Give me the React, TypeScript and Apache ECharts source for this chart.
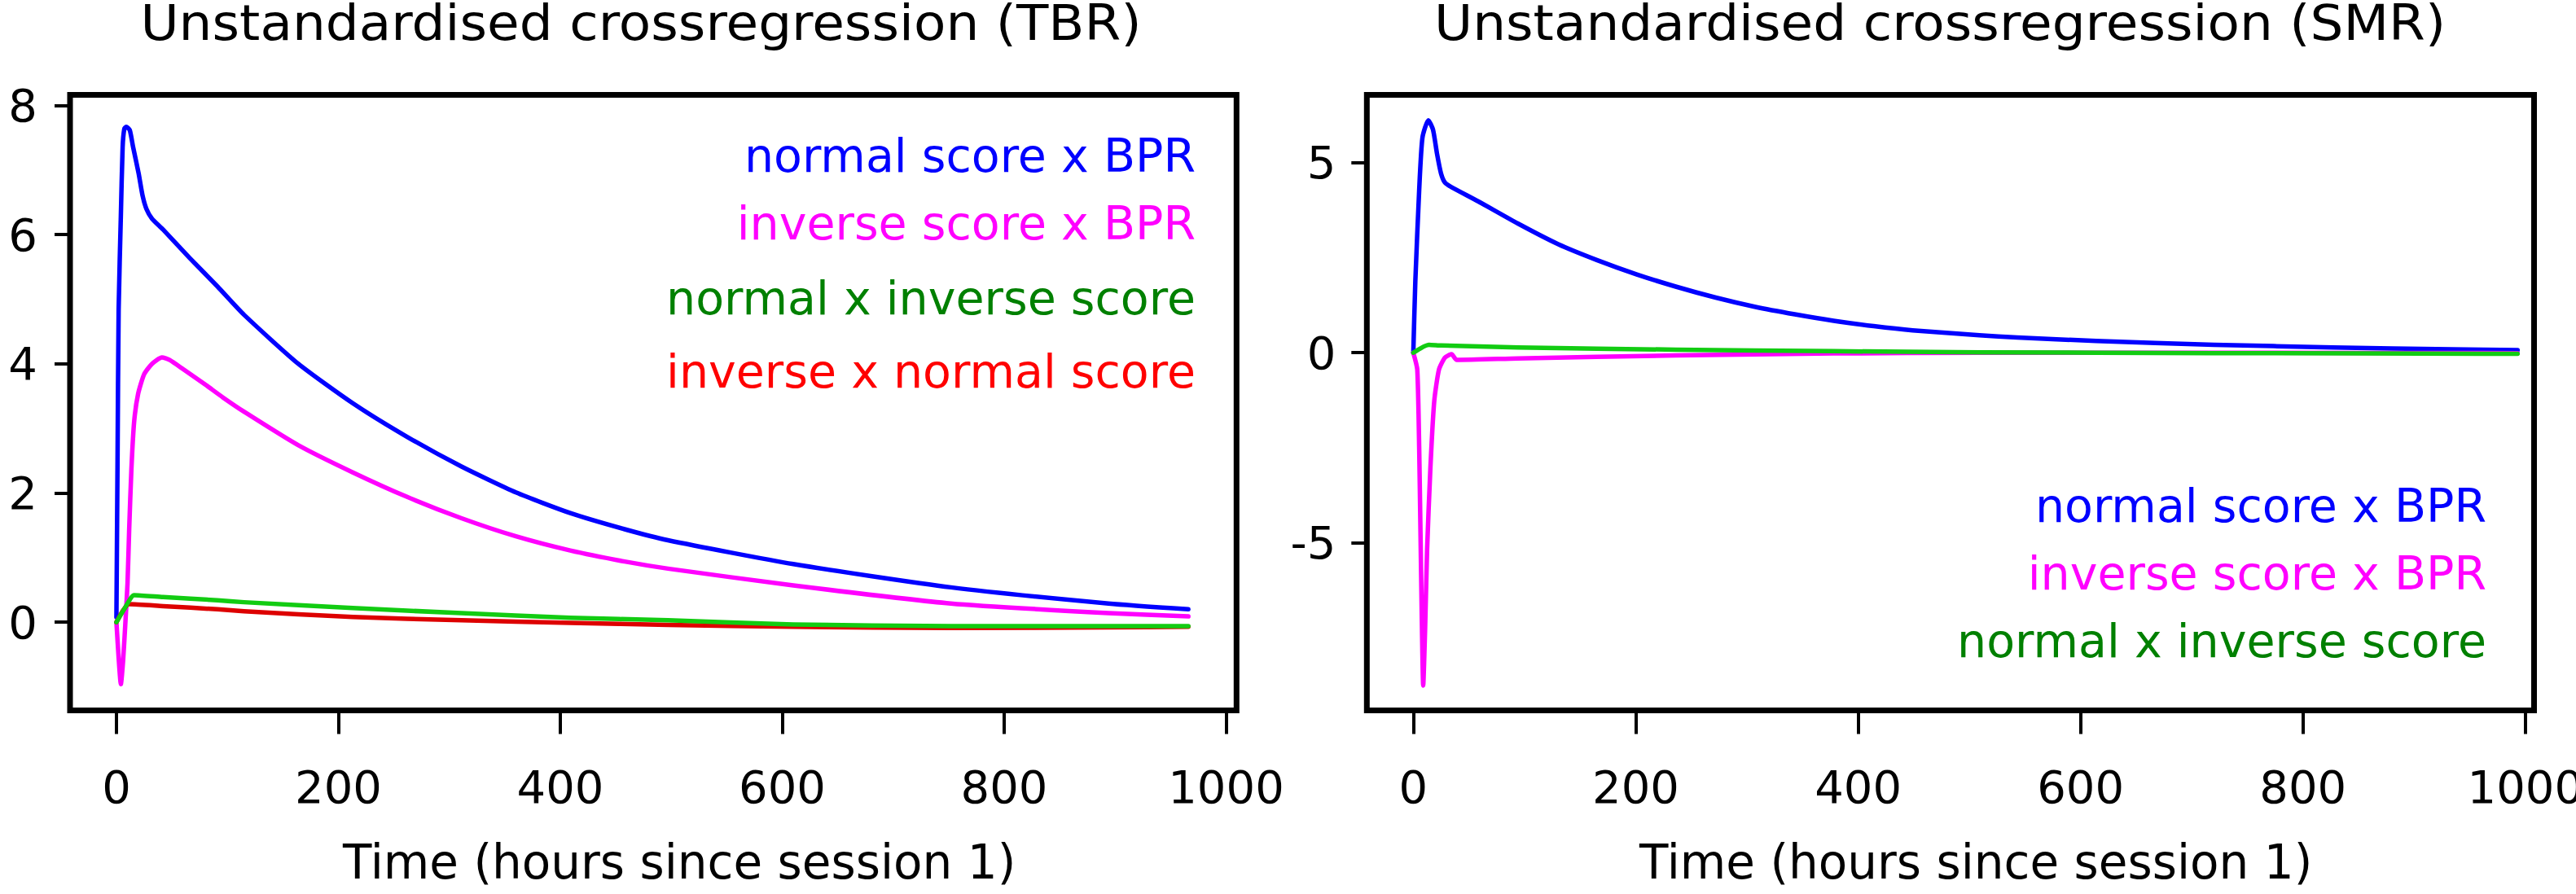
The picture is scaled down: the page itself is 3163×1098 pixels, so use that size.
import React, { useEffect, useRef } from "react";
import * as echarts from "echarts";

const FONT = "DejaVu Sans";

// Tick values
const X_TICKS = [0, 200, 400, 600, 800, 1000];
const TBR_Y_TICKS = [0, 2, 4, 6, 8];
const SMR_Y_TICKS = [-5, 0, 5];

// Titles / labels
const TBR_TITLE = "Unstandardised crossregression (TBR)";
const SMR_TITLE = "Unstandardised crossregression (SMR)";
const X_NAME = "Time (hours since session 1)";
const TBR_LEGEND = ["normal score x BPR", "inverse score x BPR", "normal x inverse score", "inverse x normal score"];
const SMR_LEGEND = ["normal score x BPR", "inverse score x BPR", "normal x inverse score"];

// TBR panel series: [hours, value]
const tbrNormalBpr: [number, number][] = [
  [0, 0.08], [1, 2.5], [2, 4.84], [4, 6.3], [5.6, 7.36], [7.1, 7.64], [8.8, 7.67], [12, 7.62],
  [15, 7.36], [20, 6.95], [23.5, 6.61], [27, 6.4], [32, 6.25], [42, 6.08], [66, 5.64], [91, 5.2],
  [115, 4.76], [164, 4.0], [213, 3.39], [262, 2.87], [311, 2.41], [360, 2.01],
  [409, 1.69], [458, 1.44], [497, 1.27], [610, 0.9], [752, 0.54], [894, 0.29], [966, 0.2],
];
const tbrInverseBpr: [number, number][] = [
  [0, 0], [2, -0.55], [4, -0.96], [6, -0.6], [8, -0.03], [10, 0.6], [11.5, 1.44], [13.5, 2.37],
  [16, 3.11], [19.6, 3.54], [25, 3.84], [32, 4.0], [41, 4.1], [48, 4.06], [60, 3.92], [80, 3.68],
  [96, 3.48], [115, 3.26], [164, 2.74], [213, 2.32], [262, 1.94], [311, 1.61], [360, 1.33], [409, 1.11],
  [458, 0.94], [497, 0.83], [610, 0.57], [752, 0.29], [894, 0.14], [966, 0.09],
];
const tbrNormalInverse: [number, number][] = [
  [0, 0], [7.6, 0.22], [16, 0.42], [42, 0.39], [91, 0.34], [115, 0.31], [213, 0.22], [311, 0.14],
  [409, 0.07], [497, 0.03], [610, -0.035], [752, -0.06], [894, -0.06], [966, -0.06],
];
const tbrInverseNormal: [number, number][] = [
  [0, 0], [11.5, 0.28], [42, 0.25], [91, 0.2], [115, 0.17], [213, 0.08], [311, 0.03], [409, -0.01],
  [497, -0.04], [610, -0.07], [752, -0.09], [894, -0.08], [966, -0.07],
];

// SMR panel series
const smrNormalBpr: [number, number][] = [
  [0, 0], [1.8, 1.87], [5.3, 4.3], [8.2, 5.66], [13.5, 6.12], [17.7, 5.87], [21.3, 5.24],
  [24.9, 4.72], [28.4, 4.48], [33.7, 4.37], [58.6, 3.98], [94, 3.4], [130, 2.86], [165, 2.44],
  [201, 2.06], [236, 1.74], [272, 1.45], [307, 1.21], [343, 1.01], [378, 0.84], [414, 0.7],
  [449, 0.59], [509, 0.46], [543, 0.4], [614, 0.31], [720, 0.21], [827, 0.14], [933, 0.09], [993, 0.07],
];
const smrInverseBpr: [number, number][] = [
  [0, 0], [3.55, -0.44], [5.3, -2.55], [6.4, -4.65], [7.5, -6.76], [8.9, -8.76], [10.6, -7.28],
  [12.4, -5.18], [15.3, -3.07], [18.8, -1.28], [23.1, -0.44], [28.4, -0.13], [34.4, -0.04],
  [39, -0.19], [94, -0.15], [236, -0.07], [378, -0.02], [509, 0], [720, 0], [993, -0.01],
];
const smrNormalInverse: [number, number][] = [
  [0, 0], [14, 0.21], [25, 0.19], [94, 0.14], [236, 0.08], [378, 0.04], [509, 0.01], [720, -0.01], [993, -0.03],
];

// Colours
const BLUE = "#0000ff";
const MAGENTA = "#ff00ff";
const GREEN_LINE = "#12cc12";
const GREEN_TEXT = "#008000";
const RED_LINE = "#dd0000";
const RED_TEXT = "#ff0000";

const TICK_FS = 56;
const LEGEND_FS = 57;
const TITLE_FS = 60;
const XNAME_FS = 58;
const CENTRAL = 0.346; // central baseline offset (em) for DejaVu Sans

function mid(baseline: number, fs: number) {
  return baseline - CENTRAL * fs;
}

function text(x: number, baseline: number, str: string, fs: number, color: string, align: string, lh?: number, sx?: number) {
  return {
    type: "text",
    x,
    y: mid(baseline, fs),
    scaleX: sx ?? 1,
    silent: true,
    z: 100,
    style: {
      text: str,
      fill: color,
      fontSize: fs,
      fontFamily: FONT,
      lineHeight: lh ?? fs,
      align,
      textAlign: align,
      verticalAlign: "middle",
      textVerticalAlign: "middle",
    },
  };
}

const fmt = (v: number) => String(v);

function xAxisOpt(gridIndex: number, min: number, max: number) {
  return {
    type: "value",
    gridIndex,
    min,
    max,
    position: "bottom",
    axisLine: { show: false, onZero: false },
    splitLine: { show: false },
    axisTick: { show: true, length: 29, lineStyle: { color: "#000", width: 4 }, customValues: X_TICKS },
    axisLabel: {
      show: true,
      customValues: X_TICKS,
      formatter: fmt,
      margin: 66,
      color: "#000",
      fontSize: TICK_FS,
      fontFamily: FONT,
      lineHeight: TICK_FS,
    },
  };
}

function yAxisOpt(gridIndex: number, min: number, max: number, ticks: number[], margin: number) {
  return {
    type: "value",
    gridIndex,
    min,
    max,
    position: "left",
    axisLine: { show: false, onZero: false },
    splitLine: { show: false },
    axisTick: { show: true, length: 19, lineStyle: { color: "#000", width: 4 }, customValues: ticks },
    axisLabel: {
      show: true,
      customValues: ticks,
      formatter: fmt,
      margin,
      color: "#000",
      fontSize: TICK_FS,
      fontFamily: FONT,
      lineHeight: TICK_FS,
    },
  };
}

function line(data: [number, number][], color: string, axis: number, z: number) {
  return {
    type: "line",
    xAxisIndex: axis,
    yAxisIndex: axis,
    data,
    showSymbol: false,
    symbol: "none",
    silent: true,
    smooth: 0.2,
    z,
    lineStyle: { color, width: 5.5, cap: "round", join: "round" },
    itemStyle: { color },
  };
}

export default function App() {
  const ref = useRef<HTMLDivElement>(null);

  useEffect(() => {
    if (!ref.current) return;
    const chart = echarts.init(ref.current, null, { renderer: "svg" });

    const option: any = {
      animation: false,
      backgroundColor: "#ffffff",
      textStyle: { fontFamily: FONT },
      grid: [
        { left: 86, top: 116.5, width: 1432.3, height: 756, show: true, borderColor: "#000", borderWidth: 7, backgroundColor: "transparent", containLabel: false, outerBoundsMode: "none" },
        { left: 1678.3, top: 116.6, width: 1433.2, height: 755.9, show: true, borderColor: "#000", borderWidth: 7, backgroundColor: "transparent", containLabel: false, outerBoundsMode: "none" },
      ],
      xAxis: [xAxisOpt(0, -41.8, 1009.4), xAxisOpt(1, -41.8, 1007.8)],
      yAxis: [yAxisOpt(0, -1.365, 8.165, TBR_Y_TICKS, 40), yAxisOpt(1, -9.415, 6.785, SMR_Y_TICKS, 38)],
      series: [
        line(tbrNormalBpr, BLUE, 0, 2),
        line(tbrInverseBpr, MAGENTA, 0, 3),
        line(tbrInverseNormal, RED_LINE, 0, 4),
        line(tbrNormalInverse, GREEN_LINE, 0, 5),
        line(smrNormalBpr, BLUE, 1, 2),
        line(smrInverseBpr, MAGENTA, 1, 3),
        line(smrNormalInverse, GREEN_LINE, 1, 4),
      ],
      graphic: [
        text(787, 49.5, TBR_TITLE, TITLE_FS, "#000", "center", 46, 1.075),
        text(2382, 49.5, SMR_TITLE, TITLE_FS, "#000", "center", 46, 1.075),
        text(421, 1079.3, X_NAME, XNAME_FS, "#000", "left"),
        text(2013, 1079.3, X_NAME, XNAME_FS, "#000", "left"),
        text(1468, 210.7, TBR_LEGEND[0], LEGEND_FS, BLUE, "right"),
        text(1468, 294, TBR_LEGEND[1], LEGEND_FS, MAGENTA, "right"),
        text(1468, 386, TBR_LEGEND[2], LEGEND_FS, GREEN_TEXT, "right"),
        text(1468, 476, TBR_LEGEND[3], LEGEND_FS, RED_TEXT, "right"),
        text(3053, 640.4, SMR_LEGEND[0], LEGEND_FS, BLUE, "right"),
        text(3053, 724, SMR_LEGEND[1], LEGEND_FS, MAGENTA, "right"),
        text(3053, 806.5, SMR_LEGEND[2], LEGEND_FS, GREEN_TEXT, "right"),
      ],
    };

    chart.setOption(option);
    return () => chart.dispose();
  }, []);

  return (
    <div
      ref={ref}
      style={{ position: "absolute", left: 0, top: 0, width: 3163, height: 1098, background: "#fff" }}
    />
  );
}
